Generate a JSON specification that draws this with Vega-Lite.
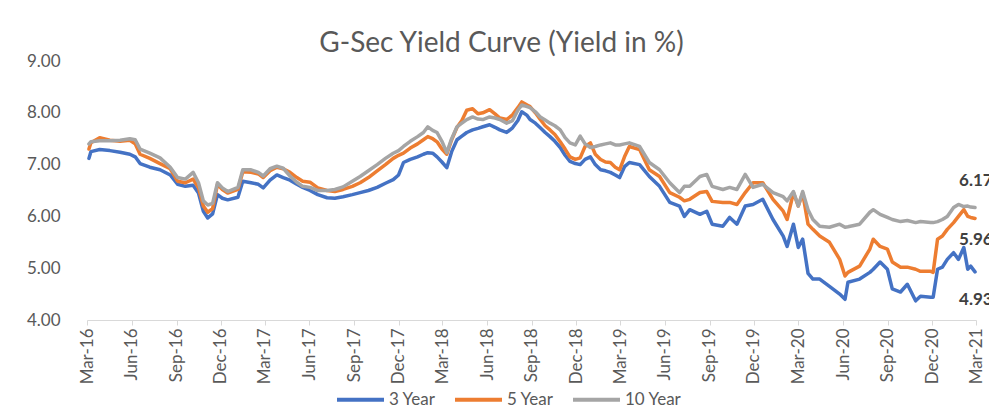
{
"$schema": "https://vega.github.io/schema/vega-lite/v6.json",
"width": 889, "height": 259,
"autosize": {"type": "none"},
"padding": {"left": 87, "top": 61, "right": 13, "bottom": 97},
"background": "white",
"config": {"view": {"stroke": null}, "font": "Lato"},
"title": {"text": "G-Sec Yield Curve (Yield in %)", "fontSize": 28, "font": "Lato", "fontWeight": "normal", "color": "#595959", "anchor": "middle", "frame": "group", "dx": -30, "dy": 36, "offset": 8, "baseline": "alphabetic"},
"datasets": {
"yields": [
{"date":"2016-03-05","series":"3 Year","yield":7.12},{"date":"2016-03-09","series":"3 Year","yield":7.25},{"date":"2016-03-27","series":"3 Year","yield":7.29},{"date":"2016-04-17","series":"3 Year","yield":7.27},{"date":"2016-05-08","series":"3 Year","yield":7.24},{"date":"2016-05-28","series":"3 Year","yield":7.20},{"date":"2016-06-08","series":"3 Year","yield":7.15},{"date":"2016-06-18","series":"3 Year","yield":7.02},{"date":"2016-07-08","series":"3 Year","yield":6.95},{"date":"2016-07-29","series":"3 Year","yield":6.90},{"date":"2016-08-19","series":"3 Year","yield":6.80},{"date":"2016-09-03","series":"3 Year","yield":6.62},{"date":"2016-09-19","series":"3 Year","yield":6.58},{"date":"2016-10-05","series":"3 Year","yield":6.60},{"date":"2016-10-16","series":"3 Year","yield":6.45},{"date":"2016-10-26","series":"3 Year","yield":6.10},{"date":"2016-11-04","series":"3 Year","yield":5.97},{"date":"2016-11-14","series":"3 Year","yield":6.05},{"date":"2016-11-24","series":"3 Year","yield":6.42},{"date":"2016-12-04","series":"3 Year","yield":6.35},{"date":"2016-12-15","series":"3 Year","yield":6.32},{"date":"2017-01-05","series":"3 Year","yield":6.37},{"date":"2017-01-15","series":"3 Year","yield":6.68},{"date":"2017-02-01","series":"3 Year","yield":6.65},{"date":"2017-02-16","series":"3 Year","yield":6.62},{"date":"2017-02-26","series":"3 Year","yield":6.55},{"date":"2017-03-12","series":"3 Year","yield":6.70},{"date":"2017-03-26","series":"3 Year","yield":6.80},{"date":"2017-04-08","series":"3 Year","yield":6.75},{"date":"2017-04-22","series":"3 Year","yield":6.70},{"date":"2017-05-06","series":"3 Year","yield":6.62},{"date":"2017-05-18","series":"3 Year","yield":6.56},{"date":"2017-06-02","series":"3 Year","yield":6.50},{"date":"2017-06-18","series":"3 Year","yield":6.42},{"date":"2017-07-07","series":"3 Year","yield":6.36},{"date":"2017-07-23","series":"3 Year","yield":6.35},{"date":"2017-08-09","series":"3 Year","yield":6.38},{"date":"2017-08-28","series":"3 Year","yield":6.42},{"date":"2017-09-13","series":"3 Year","yield":6.46},{"date":"2017-09-30","series":"3 Year","yield":6.50},{"date":"2017-10-18","series":"3 Year","yield":6.56},{"date":"2017-11-04","series":"3 Year","yield":6.64},{"date":"2017-11-20","series":"3 Year","yield":6.71},{"date":"2017-12-01","series":"3 Year","yield":6.80},{"date":"2017-12-11","series":"3 Year","yield":7.04},{"date":"2017-12-25","series":"3 Year","yield":7.10},{"date":"2018-01-09","series":"3 Year","yield":7.15},{"date":"2018-01-21","series":"3 Year","yield":7.20},{"date":"2018-01-30","series":"3 Year","yield":7.23},{"date":"2018-02-09","series":"3 Year","yield":7.22},{"date":"2018-02-18","series":"3 Year","yield":7.15},{"date":"2018-02-28","series":"3 Year","yield":7.05},{"date":"2018-03-10","series":"3 Year","yield":6.94},{"date":"2018-03-20","series":"3 Year","yield":7.25},{"date":"2018-03-31","series":"3 Year","yield":7.48},{"date":"2018-04-10","series":"3 Year","yield":7.55},{"date":"2018-04-20","series":"3 Year","yield":7.62},{"date":"2018-05-02","series":"3 Year","yield":7.67},{"date":"2018-05-13","series":"3 Year","yield":7.70},{"date":"2018-05-23","series":"3 Year","yield":7.73},{"date":"2018-06-06","series":"3 Year","yield":7.77},{"date":"2018-06-17","series":"3 Year","yield":7.72},{"date":"2018-06-27","series":"3 Year","yield":7.67},{"date":"2018-07-11","series":"3 Year","yield":7.62},{"date":"2018-07-23","series":"3 Year","yield":7.71},{"date":"2018-08-03","series":"3 Year","yield":7.85},{"date":"2018-08-11","series":"3 Year","yield":8.02},{"date":"2018-08-22","series":"3 Year","yield":7.95},{"date":"2018-08-28","series":"3 Year","yield":7.87},{"date":"2018-09-08","series":"3 Year","yield":7.80},{"date":"2018-09-18","series":"3 Year","yield":7.71},{"date":"2018-09-28","series":"3 Year","yield":7.62},{"date":"2018-10-08","series":"3 Year","yield":7.54},{"date":"2018-10-18","series":"3 Year","yield":7.45},{"date":"2018-10-29","series":"3 Year","yield":7.33},{"date":"2018-11-08","series":"3 Year","yield":7.18},{"date":"2018-11-18","series":"3 Year","yield":7.06},{"date":"2018-11-29","series":"3 Year","yield":7.02},{"date":"2018-12-09","series":"3 Year","yield":7.00},{"date":"2018-12-19","series":"3 Year","yield":7.10},{"date":"2018-12-30","series":"3 Year","yield":7.15},{"date":"2019-01-09","series":"3 Year","yield":7.00},{"date":"2019-01-20","series":"3 Year","yield":6.90},{"date":"2019-01-30","series":"3 Year","yield":6.88},{"date":"2019-02-09","series":"3 Year","yield":6.85},{"date":"2019-02-19","series":"3 Year","yield":6.80},{"date":"2019-02-28","series":"3 Year","yield":6.75},{"date":"2019-03-10","series":"3 Year","yield":6.96},{"date":"2019-03-20","series":"3 Year","yield":7.04},{"date":"2019-04-10","series":"3 Year","yield":7.00},{"date":"2019-04-30","series":"3 Year","yield":6.77},{"date":"2019-05-21","series":"3 Year","yield":6.58},{"date":"2019-06-11","series":"3 Year","yield":6.27},{"date":"2019-07-01","series":"3 Year","yield":6.20},{"date":"2019-07-11","series":"3 Year","yield":6.00},{"date":"2019-07-22","series":"3 Year","yield":6.13},{"date":"2019-08-12","series":"3 Year","yield":6.04},{"date":"2019-08-26","series":"3 Year","yield":6.10},{"date":"2019-09-06","series":"3 Year","yield":5.85},{"date":"2019-09-28","series":"3 Year","yield":5.81},{"date":"2019-10-12","series":"3 Year","yield":5.98},{"date":"2019-10-27","series":"3 Year","yield":5.85},{"date":"2019-11-13","series":"3 Year","yield":6.20},{"date":"2019-11-29","series":"3 Year","yield":6.23},{"date":"2019-12-19","series":"3 Year","yield":6.33},{"date":"2020-01-09","series":"3 Year","yield":5.94},{"date":"2020-01-30","series":"3 Year","yield":5.62},{"date":"2020-02-07","series":"3 Year","yield":5.42},{"date":"2020-02-20","series":"3 Year","yield":5.85},{"date":"2020-03-01","series":"3 Year","yield":5.40},{"date":"2020-03-10","series":"3 Year","yield":5.56},{"date":"2020-03-21","series":"3 Year","yield":4.90},{"date":"2020-03-31","series":"3 Year","yield":4.79},{"date":"2020-04-14","series":"3 Year","yield":4.79},{"date":"2020-05-04","series":"3 Year","yield":4.65},{"date":"2020-05-25","series":"3 Year","yield":4.50},{"date":"2020-06-05","series":"3 Year","yield":4.40},{"date":"2020-06-11","series":"3 Year","yield":4.73},{"date":"2020-07-05","series":"3 Year","yield":4.79},{"date":"2020-07-26","series":"3 Year","yield":4.92},{"date":"2020-08-02","series":"3 Year","yield":4.98},{"date":"2020-08-16","series":"3 Year","yield":5.12},{"date":"2020-08-31","series":"3 Year","yield":4.98},{"date":"2020-09-10","series":"3 Year","yield":4.60},{"date":"2020-09-27","series":"3 Year","yield":4.54},{"date":"2020-10-11","series":"3 Year","yield":4.69},{"date":"2020-10-28","series":"3 Year","yield":4.37},{"date":"2020-11-07","series":"3 Year","yield":4.46},{"date":"2020-11-28","series":"3 Year","yield":4.44},{"date":"2020-12-03","series":"3 Year","yield":4.44},{"date":"2020-12-12","series":"3 Year","yield":4.98},{"date":"2020-12-22","series":"3 Year","yield":5.02},{"date":"2021-01-01","series":"3 Year","yield":5.17},{"date":"2021-01-14","series":"3 Year","yield":5.30},{"date":"2021-01-24","series":"3 Year","yield":5.17},{"date":"2021-02-04","series":"3 Year","yield":5.40},{"date":"2021-02-12","series":"3 Year","yield":4.98},{"date":"2021-02-18","series":"3 Year","yield":5.04},{"date":"2021-02-27","series":"3 Year","yield":4.93},
{"date":"2016-03-05","series":"5 Year","yield":7.30},{"date":"2016-03-09","series":"5 Year","yield":7.42},{"date":"2016-03-27","series":"5 Year","yield":7.52},{"date":"2016-04-17","series":"5 Year","yield":7.47},{"date":"2016-05-08","series":"5 Year","yield":7.45},{"date":"2016-05-28","series":"5 Year","yield":7.47},{"date":"2016-06-08","series":"5 Year","yield":7.40},{"date":"2016-06-18","series":"5 Year","yield":7.20},{"date":"2016-07-08","series":"5 Year","yield":7.12},{"date":"2016-07-29","series":"5 Year","yield":7.02},{"date":"2016-08-19","series":"5 Year","yield":6.92},{"date":"2016-09-03","series":"5 Year","yield":6.68},{"date":"2016-09-19","series":"5 Year","yield":6.65},{"date":"2016-10-05","series":"5 Year","yield":6.72},{"date":"2016-10-16","series":"5 Year","yield":6.55},{"date":"2016-10-26","series":"5 Year","yield":6.20},{"date":"2016-11-04","series":"5 Year","yield":6.08},{"date":"2016-11-14","series":"5 Year","yield":6.15},{"date":"2016-11-24","series":"5 Year","yield":6.62},{"date":"2016-12-04","series":"5 Year","yield":6.52},{"date":"2016-12-15","series":"5 Year","yield":6.45},{"date":"2017-01-05","series":"5 Year","yield":6.52},{"date":"2017-01-15","series":"5 Year","yield":6.86},{"date":"2017-02-01","series":"5 Year","yield":6.85},{"date":"2017-02-16","series":"5 Year","yield":6.82},{"date":"2017-02-26","series":"5 Year","yield":6.75},{"date":"2017-03-12","series":"5 Year","yield":6.88},{"date":"2017-03-26","series":"5 Year","yield":6.95},{"date":"2017-04-08","series":"5 Year","yield":6.92},{"date":"2017-04-22","series":"5 Year","yield":6.85},{"date":"2017-05-06","series":"5 Year","yield":6.75},{"date":"2017-05-18","series":"5 Year","yield":6.68},{"date":"2017-06-02","series":"5 Year","yield":6.66},{"date":"2017-06-18","series":"5 Year","yield":6.55},{"date":"2017-07-07","series":"5 Year","yield":6.50},{"date":"2017-07-23","series":"5 Year","yield":6.48},{"date":"2017-08-09","series":"5 Year","yield":6.52},{"date":"2017-08-28","series":"5 Year","yield":6.58},{"date":"2017-09-13","series":"5 Year","yield":6.65},{"date":"2017-09-30","series":"5 Year","yield":6.75},{"date":"2017-10-18","series":"5 Year","yield":6.88},{"date":"2017-11-04","series":"5 Year","yield":7.00},{"date":"2017-11-20","series":"5 Year","yield":7.12},{"date":"2017-12-01","series":"5 Year","yield":7.18},{"date":"2017-12-11","series":"5 Year","yield":7.22},{"date":"2017-12-25","series":"5 Year","yield":7.32},{"date":"2018-01-09","series":"5 Year","yield":7.40},{"date":"2018-01-21","series":"5 Year","yield":7.48},{"date":"2018-01-30","series":"5 Year","yield":7.54},{"date":"2018-02-09","series":"5 Year","yield":7.50},{"date":"2018-02-18","series":"5 Year","yield":7.44},{"date":"2018-02-28","series":"5 Year","yield":7.30},{"date":"2018-03-10","series":"5 Year","yield":7.20},{"date":"2018-03-20","series":"5 Year","yield":7.48},{"date":"2018-03-31","series":"5 Year","yield":7.72},{"date":"2018-04-10","series":"5 Year","yield":7.85},{"date":"2018-04-20","series":"5 Year","yield":8.05},{"date":"2018-05-02","series":"5 Year","yield":8.08},{"date":"2018-05-13","series":"5 Year","yield":7.98},{"date":"2018-05-23","series":"5 Year","yield":8.00},{"date":"2018-06-06","series":"5 Year","yield":8.06},{"date":"2018-06-17","series":"5 Year","yield":7.98},{"date":"2018-06-27","series":"5 Year","yield":7.90},{"date":"2018-07-11","series":"5 Year","yield":7.87},{"date":"2018-07-23","series":"5 Year","yield":7.96},{"date":"2018-08-03","series":"5 Year","yield":8.10},{"date":"2018-08-11","series":"5 Year","yield":8.21},{"date":"2018-08-22","series":"5 Year","yield":8.15},{"date":"2018-08-28","series":"5 Year","yield":8.12},{"date":"2018-09-08","series":"5 Year","yield":8.00},{"date":"2018-09-18","series":"5 Year","yield":7.87},{"date":"2018-09-28","series":"5 Year","yield":7.75},{"date":"2018-10-08","series":"5 Year","yield":7.67},{"date":"2018-10-18","series":"5 Year","yield":7.58},{"date":"2018-10-29","series":"5 Year","yield":7.44},{"date":"2018-11-08","series":"5 Year","yield":7.30},{"date":"2018-11-18","series":"5 Year","yield":7.15},{"date":"2018-11-29","series":"5 Year","yield":7.10},{"date":"2018-12-09","series":"5 Year","yield":7.13},{"date":"2018-12-19","series":"5 Year","yield":7.35},{"date":"2018-12-30","series":"5 Year","yield":7.42},{"date":"2019-01-09","series":"5 Year","yield":7.20},{"date":"2019-01-20","series":"5 Year","yield":7.10},{"date":"2019-01-30","series":"5 Year","yield":7.05},{"date":"2019-02-09","series":"5 Year","yield":7.04},{"date":"2019-02-19","series":"5 Year","yield":6.95},{"date":"2019-02-28","series":"5 Year","yield":6.90},{"date":"2019-03-10","series":"5 Year","yield":7.15},{"date":"2019-03-20","series":"5 Year","yield":7.35},{"date":"2019-04-10","series":"5 Year","yield":7.29},{"date":"2019-04-30","series":"5 Year","yield":6.90},{"date":"2019-05-21","series":"5 Year","yield":6.77},{"date":"2019-06-11","series":"5 Year","yield":6.46},{"date":"2019-07-01","series":"5 Year","yield":6.37},{"date":"2019-07-11","series":"5 Year","yield":6.30},{"date":"2019-07-22","series":"5 Year","yield":6.33},{"date":"2019-08-12","series":"5 Year","yield":6.46},{"date":"2019-08-26","series":"5 Year","yield":6.48},{"date":"2019-09-06","series":"5 Year","yield":6.29},{"date":"2019-09-28","series":"5 Year","yield":6.27},{"date":"2019-10-12","series":"5 Year","yield":6.27},{"date":"2019-10-27","series":"5 Year","yield":6.23},{"date":"2019-11-13","series":"5 Year","yield":6.46},{"date":"2019-11-29","series":"5 Year","yield":6.65},{"date":"2019-12-19","series":"5 Year","yield":6.65},{"date":"2020-01-09","series":"5 Year","yield":6.33},{"date":"2020-01-30","series":"5 Year","yield":6.10},{"date":"2020-02-07","series":"5 Year","yield":5.94},{"date":"2020-02-20","series":"5 Year","yield":6.46},{"date":"2020-03-01","series":"5 Year","yield":6.20},{"date":"2020-03-10","series":"5 Year","yield":6.45},{"date":"2020-03-21","series":"5 Year","yield":5.85},{"date":"2020-03-31","series":"5 Year","yield":5.75},{"date":"2020-04-14","series":"5 Year","yield":5.62},{"date":"2020-05-04","series":"5 Year","yield":5.50},{"date":"2020-05-25","series":"5 Year","yield":5.17},{"date":"2020-06-05","series":"5 Year","yield":4.85},{"date":"2020-06-11","series":"5 Year","yield":4.92},{"date":"2020-07-05","series":"5 Year","yield":5.04},{"date":"2020-07-26","series":"5 Year","yield":5.37},{"date":"2020-08-02","series":"5 Year","yield":5.56},{"date":"2020-08-16","series":"5 Year","yield":5.42},{"date":"2020-08-31","series":"5 Year","yield":5.37},{"date":"2020-09-10","series":"5 Year","yield":5.12},{"date":"2020-09-27","series":"5 Year","yield":5.02},{"date":"2020-10-11","series":"5 Year","yield":5.02},{"date":"2020-10-28","series":"5 Year","yield":4.98},{"date":"2020-11-07","series":"5 Year","yield":4.94},{"date":"2020-11-28","series":"5 Year","yield":4.94},{"date":"2020-12-03","series":"5 Year","yield":4.92},{"date":"2020-12-12","series":"5 Year","yield":5.56},{"date":"2020-12-22","series":"5 Year","yield":5.62},{"date":"2021-01-01","series":"5 Year","yield":5.75},{"date":"2021-01-14","series":"5 Year","yield":5.88},{"date":"2021-01-24","series":"5 Year","yield":6.00},{"date":"2021-02-04","series":"5 Year","yield":6.13},{"date":"2021-02-12","series":"5 Year","yield":6.00},{"date":"2021-02-18","series":"5 Year","yield":5.98},{"date":"2021-02-27","series":"5 Year","yield":5.96},
{"date":"2016-03-05","series":"10 Year","yield":7.40},{"date":"2016-03-09","series":"10 Year","yield":7.44},{"date":"2016-03-27","series":"10 Year","yield":7.46},{"date":"2016-04-17","series":"10 Year","yield":7.46},{"date":"2016-05-08","series":"10 Year","yield":7.47},{"date":"2016-05-28","series":"10 Year","yield":7.50},{"date":"2016-06-08","series":"10 Year","yield":7.48},{"date":"2016-06-18","series":"10 Year","yield":7.30},{"date":"2016-07-08","series":"10 Year","yield":7.22},{"date":"2016-07-29","series":"10 Year","yield":7.13},{"date":"2016-08-19","series":"10 Year","yield":6.95},{"date":"2016-09-03","series":"10 Year","yield":6.75},{"date":"2016-09-19","series":"10 Year","yield":6.72},{"date":"2016-10-05","series":"10 Year","yield":6.85},{"date":"2016-10-16","series":"10 Year","yield":6.65},{"date":"2016-10-26","series":"10 Year","yield":6.30},{"date":"2016-11-04","series":"10 Year","yield":6.22},{"date":"2016-11-14","series":"10 Year","yield":6.25},{"date":"2016-11-24","series":"10 Year","yield":6.65},{"date":"2016-12-04","series":"10 Year","yield":6.55},{"date":"2016-12-15","series":"10 Year","yield":6.48},{"date":"2017-01-05","series":"10 Year","yield":6.56},{"date":"2017-01-15","series":"10 Year","yield":6.90},{"date":"2017-02-01","series":"10 Year","yield":6.90},{"date":"2017-02-16","series":"10 Year","yield":6.85},{"date":"2017-02-26","series":"10 Year","yield":6.78},{"date":"2017-03-12","series":"10 Year","yield":6.92},{"date":"2017-03-26","series":"10 Year","yield":6.97},{"date":"2017-04-08","series":"10 Year","yield":6.93},{"date":"2017-04-22","series":"10 Year","yield":6.78},{"date":"2017-05-06","series":"10 Year","yield":6.66},{"date":"2017-05-18","series":"10 Year","yield":6.58},{"date":"2017-06-02","series":"10 Year","yield":6.56},{"date":"2017-06-18","series":"10 Year","yield":6.50},{"date":"2017-07-07","series":"10 Year","yield":6.50},{"date":"2017-07-23","series":"10 Year","yield":6.52},{"date":"2017-08-09","series":"10 Year","yield":6.57},{"date":"2017-08-28","series":"10 Year","yield":6.68},{"date":"2017-09-13","series":"10 Year","yield":6.77},{"date":"2017-09-30","series":"10 Year","yield":6.88},{"date":"2017-10-18","series":"10 Year","yield":7.00},{"date":"2017-11-04","series":"10 Year","yield":7.12},{"date":"2017-11-20","series":"10 Year","yield":7.22},{"date":"2017-12-01","series":"10 Year","yield":7.27},{"date":"2017-12-11","series":"10 Year","yield":7.35},{"date":"2017-12-25","series":"10 Year","yield":7.45},{"date":"2018-01-09","series":"10 Year","yield":7.54},{"date":"2018-01-21","series":"10 Year","yield":7.62},{"date":"2018-01-30","series":"10 Year","yield":7.73},{"date":"2018-02-09","series":"10 Year","yield":7.66},{"date":"2018-02-18","series":"10 Year","yield":7.62},{"date":"2018-02-28","series":"10 Year","yield":7.45},{"date":"2018-03-10","series":"10 Year","yield":7.23},{"date":"2018-03-20","series":"10 Year","yield":7.50},{"date":"2018-03-31","series":"10 Year","yield":7.73},{"date":"2018-04-10","series":"10 Year","yield":7.80},{"date":"2018-04-20","series":"10 Year","yield":7.87},{"date":"2018-05-02","series":"10 Year","yield":7.92},{"date":"2018-05-13","series":"10 Year","yield":7.88},{"date":"2018-05-23","series":"10 Year","yield":7.87},{"date":"2018-06-06","series":"10 Year","yield":7.92},{"date":"2018-06-17","series":"10 Year","yield":7.90},{"date":"2018-06-27","series":"10 Year","yield":7.87},{"date":"2018-07-11","series":"10 Year","yield":7.80},{"date":"2018-07-23","series":"10 Year","yield":7.85},{"date":"2018-08-03","series":"10 Year","yield":8.05},{"date":"2018-08-11","series":"10 Year","yield":8.15},{"date":"2018-08-22","series":"10 Year","yield":8.12},{"date":"2018-08-28","series":"10 Year","yield":8.10},{"date":"2018-09-08","series":"10 Year","yield":8.02},{"date":"2018-09-18","series":"10 Year","yield":7.92},{"date":"2018-09-28","series":"10 Year","yield":7.86},{"date":"2018-10-08","series":"10 Year","yield":7.80},{"date":"2018-10-18","series":"10 Year","yield":7.75},{"date":"2018-10-29","series":"10 Year","yield":7.67},{"date":"2018-11-08","series":"10 Year","yield":7.52},{"date":"2018-11-18","series":"10 Year","yield":7.42},{"date":"2018-11-29","series":"10 Year","yield":7.38},{"date":"2018-12-09","series":"10 Year","yield":7.55},{"date":"2018-12-19","series":"10 Year","yield":7.40},{"date":"2018-12-30","series":"10 Year","yield":7.33},{"date":"2019-01-09","series":"10 Year","yield":7.35},{"date":"2019-01-20","series":"10 Year","yield":7.38},{"date":"2019-01-30","series":"10 Year","yield":7.40},{"date":"2019-02-09","series":"10 Year","yield":7.42},{"date":"2019-02-19","series":"10 Year","yield":7.38},{"date":"2019-02-28","series":"10 Year","yield":7.38},{"date":"2019-03-10","series":"10 Year","yield":7.40},{"date":"2019-03-20","series":"10 Year","yield":7.42},{"date":"2019-04-10","series":"10 Year","yield":7.35},{"date":"2019-04-30","series":"10 Year","yield":7.04},{"date":"2019-05-21","series":"10 Year","yield":6.90},{"date":"2019-06-11","series":"10 Year","yield":6.65},{"date":"2019-07-01","series":"10 Year","yield":6.46},{"date":"2019-07-11","series":"10 Year","yield":6.58},{"date":"2019-07-22","series":"10 Year","yield":6.58},{"date":"2019-08-12","series":"10 Year","yield":6.77},{"date":"2019-08-26","series":"10 Year","yield":6.81},{"date":"2019-09-06","series":"10 Year","yield":6.58},{"date":"2019-09-28","series":"10 Year","yield":6.52},{"date":"2019-10-12","series":"10 Year","yield":6.56},{"date":"2019-10-27","series":"10 Year","yield":6.52},{"date":"2019-11-13","series":"10 Year","yield":6.81},{"date":"2019-11-29","series":"10 Year","yield":6.56},{"date":"2019-12-19","series":"10 Year","yield":6.62},{"date":"2020-01-09","series":"10 Year","yield":6.46},{"date":"2020-01-30","series":"10 Year","yield":6.38},{"date":"2020-02-07","series":"10 Year","yield":6.30},{"date":"2020-02-20","series":"10 Year","yield":6.48},{"date":"2020-03-01","series":"10 Year","yield":6.20},{"date":"2020-03-10","series":"10 Year","yield":6.48},{"date":"2020-03-21","series":"10 Year","yield":6.13},{"date":"2020-03-31","series":"10 Year","yield":5.94},{"date":"2020-04-14","series":"10 Year","yield":5.81},{"date":"2020-05-04","series":"10 Year","yield":5.79},{"date":"2020-05-25","series":"10 Year","yield":5.85},{"date":"2020-06-05","series":"10 Year","yield":5.79},{"date":"2020-06-11","series":"10 Year","yield":5.80},{"date":"2020-07-05","series":"10 Year","yield":5.85},{"date":"2020-07-26","series":"10 Year","yield":6.08},{"date":"2020-08-02","series":"10 Year","yield":6.13},{"date":"2020-08-16","series":"10 Year","yield":6.04},{"date":"2020-08-31","series":"10 Year","yield":5.98},{"date":"2020-09-10","series":"10 Year","yield":5.94},{"date":"2020-09-27","series":"10 Year","yield":5.90},{"date":"2020-10-11","series":"10 Year","yield":5.92},{"date":"2020-10-28","series":"10 Year","yield":5.88},{"date":"2020-11-07","series":"10 Year","yield":5.90},{"date":"2020-11-28","series":"10 Year","yield":5.88},{"date":"2020-12-03","series":"10 Year","yield":5.88},{"date":"2020-12-12","series":"10 Year","yield":5.90},{"date":"2020-12-22","series":"10 Year","yield":5.94},{"date":"2021-01-01","series":"10 Year","yield":6.00},{"date":"2021-01-14","series":"10 Year","yield":6.17},{"date":"2021-01-24","series":"10 Year","yield":6.23},{"date":"2021-02-04","series":"10 Year","yield":6.19},{"date":"2021-02-12","series":"10 Year","yield":6.20},{"date":"2021-02-18","series":"10 Year","yield":6.18},{"date":"2021-02-27","series":"10 Year","yield":6.17}
],
"endLabels": [
{"date":"2021-02-27","series":"10 Year","yield":6.17,"label":"6.17"},
{"date":"2021-02-27","series":"5 Year","yield":5.96,"label":"5.96"},
{"date":"2021-02-27","series":"3 Year","yield":4.93,"label":"4.93"}
]
},
"layer": [
{
"data": {"name": "yields"},
"mark": {"type": "line", "strokeWidth": 3.5, "strokeJoin": "round", "strokeCap": "round"},
"encoding": {
"x": {"field": "date", "type": "temporal",
 "scale": {"type": "utc", "domain": [{"year":2016,"month":3,"date":1,"utc":true},{"year":2021,"month":3,"date":1,"utc":true}]},
 "axis": {"title": null, "grid": false, "format": "%b-%y",
  "values": [{"year":2016,"month":3,"date":1,"utc":true},{"year":2016,"month":6,"date":1,"utc":true},{"year":2016,"month":9,"date":1,"utc":true},{"year":2016,"month":12,"date":1,"utc":true},{"year":2017,"month":3,"date":1,"utc":true},{"year":2017,"month":6,"date":1,"utc":true},{"year":2017,"month":9,"date":1,"utc":true},{"year":2017,"month":12,"date":1,"utc":true},{"year":2018,"month":3,"date":1,"utc":true},{"year":2018,"month":6,"date":1,"utc":true},{"year":2018,"month":9,"date":1,"utc":true},{"year":2018,"month":12,"date":1,"utc":true},{"year":2019,"month":3,"date":1,"utc":true},{"year":2019,"month":6,"date":1,"utc":true},{"year":2019,"month":9,"date":1,"utc":true},{"year":2019,"month":12,"date":1,"utc":true},{"year":2020,"month":3,"date":1,"utc":true},{"year":2020,"month":6,"date":1,"utc":true},{"year":2020,"month":9,"date":1,"utc":true},{"year":2020,"month":12,"date":1,"utc":true},{"year":2021,"month":3,"date":1,"utc":true}],
  "labelAngle": 270, "labelFontSize": 17, "labelFont": "Lato", "labelColor": "#595959", "labelPadding": 3,
  "labelOverlap": false, "labelFlush": false, "labelBound": false,
  "domainColor": "#D9D9D9", "domainWidth": 1, "tickColor": "#D9D9D9", "tickSize": 5}},
"y": {"field": "yield", "type": "quantitative",
 "scale": {"domain": [4, 9], "nice": false, "zero": false},
 "axis": {"title": null, "grid": false, "domain": false, "ticks": false, "values": [4,5,6,7,8,9], "format": ".2f",
  "labelFontSize": 17, "labelFont": "Lato", "labelColor": "#595959", "labelPadding": 27}},
"color": {"field": "series", "type": "nominal",
 "scale": {"domain": ["3 Year", "5 Year", "10 Year"], "range": ["#4472C4", "#ED7D31", "#A5A5A5"]},
 "legend": {"orient": "none", "legendX": 248, "legendY": 313, "direction": "horizontal", "title": null,
  "symbolType": "stroke", "symbolSize": 2209, "symbolStrokeWidth": 4, "labelFontSize": 17, "labelFont": "Lato",
  "labelColor": "#595959", "labelOffset": 3, "columnPadding": 11, "padding": 0}}
}
},
{
"data": {"name": "endLabels"},
"transform": [{"filter": {"field": "series", "equal": "10 Year"}}],
"mark": {"type": "text", "align": "left", "baseline": "middle", "dx": -16, "dy": -27, "fontSize": 17, "fontWeight": "bold", "font": "Lato", "color": "#404040"},
"encoding": {"x": {"field": "date", "type": "temporal"}, "y": {"field": "yield", "type": "quantitative"}, "text": {"field": "label"}}
},
{
"data": {"name": "endLabels"},
"transform": [{"filter": {"field": "series", "equal": "5 Year"}}],
"mark": {"type": "text", "align": "left", "baseline": "middle", "dx": -16, "dy": 22, "fontSize": 17, "fontWeight": "bold", "font": "Lato", "color": "#404040"},
"encoding": {"x": {"field": "date", "type": "temporal"}, "y": {"field": "yield", "type": "quantitative"}, "text": {"field": "label"}}
},
{
"data": {"name": "endLabels"},
"transform": [{"filter": {"field": "series", "equal": "3 Year"}}],
"mark": {"type": "text", "align": "left", "baseline": "middle", "dx": -16, "dy": 28, "fontSize": 17, "fontWeight": "bold", "font": "Lato", "color": "#404040"},
"encoding": {"x": {"field": "date", "type": "temporal"}, "y": {"field": "yield", "type": "quantitative"}, "text": {"field": "label"}}
}
]
}
